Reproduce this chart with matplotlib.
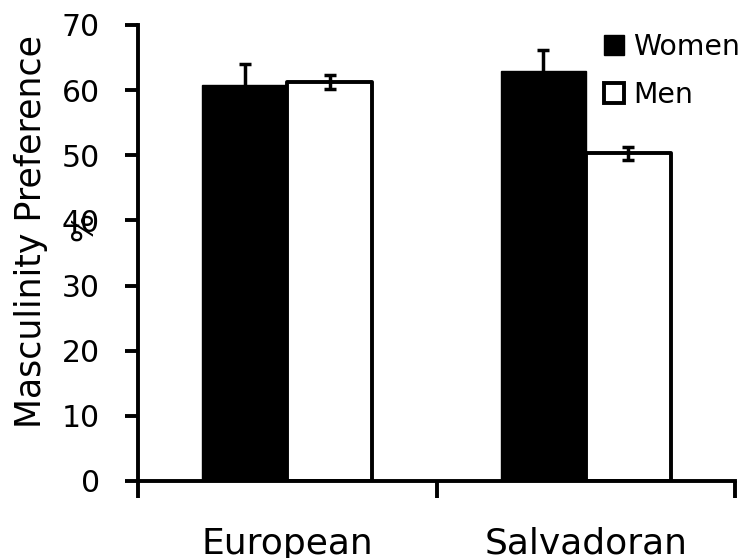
import numpy as np
import matplotlib
matplotlib.use("Agg")
import matplotlib.pyplot as plt

# data
groups = ["European", "Salvadoran"]
women = [60.8, 62.9]
women_err = [3.2, 3.3]
men = [61.3, 50.3]
men_err = [1.1, 1.0]
yticks = [0, 10, 20, 30, 40, 50, 60, 70]

plt.rcParams['font.family'] = ['DejaVu Sans']

fig = plt.figure(figsize=(7.45, 5.58), dpi=100)
ax = fig.add_axes([138/745, 1-481/558, (735-138)/745, (481-25)/558])

x = np.arange(len(groups))
w = 0.284
ax.bar(x - w/2, women, w, color='black', edgecolor='black', linewidth=1,
       label='Women', zorder=2)
ax.bar(x + w/2, men, w, color='white', edgecolor='black', linewidth=2.8,
       joinstyle='round', label='Men', zorder=2)
ax.errorbar(x - w/2, women, yerr=women_err, fmt='none', ecolor='black',
            elinewidth=2.5, capsize=4.5, capthick=2.5, zorder=3)
ax.errorbar(x + w/2, men, yerr=men_err, fmt='none', ecolor='black',
            elinewidth=2.5, capsize=4.5, capthick=2.5, zorder=3)

ax.set_xlim(-0.5, len(groups) - 0.5)
ax.set_ylim(0, 70)
ax.set_yticks(yticks)
ax.set_xticks(x)
ax.set_xticklabels(groups)
ax.set_xticks(np.arange(len(groups) + 1) - 0.5, minor=True)
ax.tick_params(axis='x', which='major', length=0, pad=33, labelsize=26)
ax.tick_params(axis='x', which='minor', length=12, width=2.8, direction='out')
ax.tick_params(axis='y', length=9.5, width=2.8, direction='out', pad=18,
               labelsize=21.5)

for s in ['top', 'right']:
    ax.spines[s].set_visible(False)
for s in ['left', 'bottom']:
    ax.spines[s].set_linewidth(2.8)

fig.text(31/745, 1-231/558, 'Masculinity Preference', rotation=90,
         ha='center', va='center', fontsize=25)
fig.text(84/745, 1-227/558, '%', rotation=90,
         ha='center', va='center', fontsize=22)

ax.legend(frameon=False, loc='upper left', bbox_to_anchor=(0.781, 0.983),
          bbox_transform=ax.transAxes, fontsize=20.4, handlelength=0.71,
          handleheight=0.71, handletextpad=0.3, labelspacing=0.72,
          borderaxespad=0, borderpad=0)

fig.savefig("out.png", dpi=100)
